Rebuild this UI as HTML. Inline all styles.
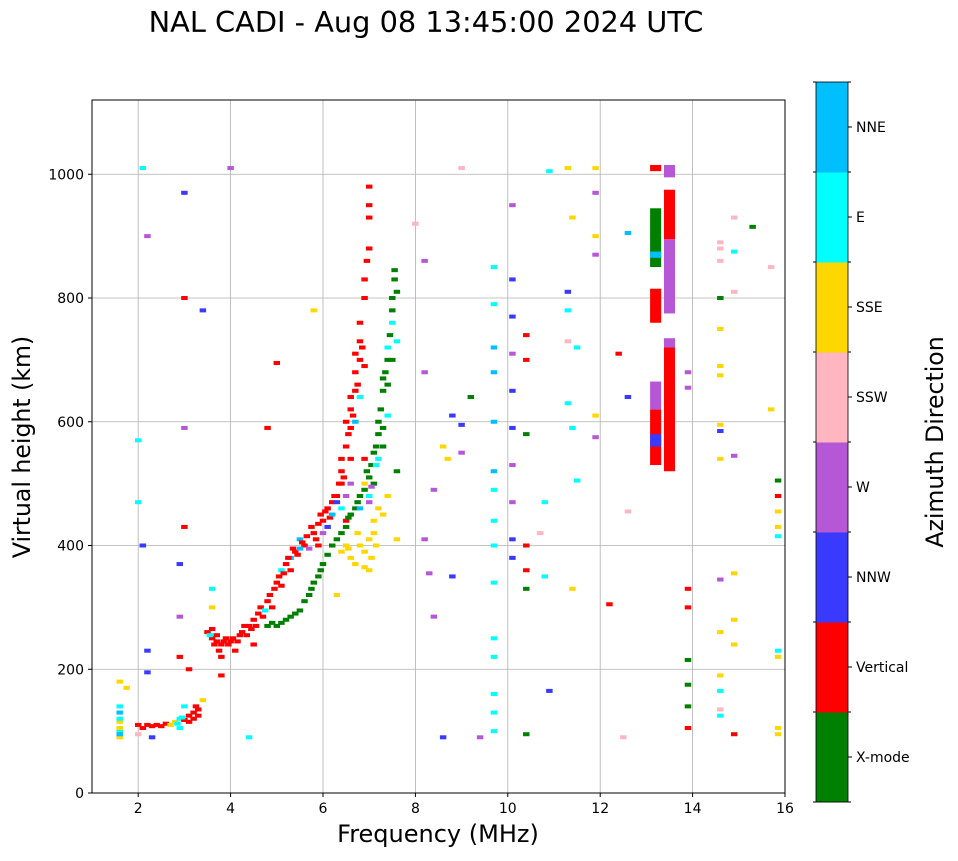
<!DOCTYPE html>
<html><head><meta charset="utf-8">
<style>
body{margin:0;background:#fff;font-family:"DejaVu Sans","Liberation Sans",sans-serif;}
svg text{font-family:"DejaVu Sans","Liberation Sans",sans-serif;}
</style></head>
<body>
<svg id="chart" width="958" height="857">
<text x="426" y="32" text-anchor="middle" font-size="28.8">NAL CADI - Aug 08 13:45:00 2024 UTC</text>
<g id="grid"></g>
<g id="marks"></g>
<rect x="92" y="100" width="693" height="693" fill="none" stroke="#000" stroke-width="1"/>
<g id="axes"></g>
<text x="438" y="842" text-anchor="middle" font-size="24">Frequency (MHz)</text>
<text x="0" y="0" transform="translate(30,447) rotate(-90)" text-anchor="middle" font-size="23.6">Virtual height (km)</text>
<g id="cbar"></g>
<text x="0" y="0" transform="translate(943,442) rotate(-90)" text-anchor="middle" font-size="23.6">Azimuth Direction</text>
</svg>
<script>
const xTicks=[2,4,6,8,10,12,14,16];
const yTicks=[0,200,400,600,800,1000];
const dirNames=["X-mode","Vertical","NNW","W","SSW","SSE","E","NNE"];
const dirColors=["#008000","#ff0000","#3a3aff","#b657d6","#ffb6c1","#ffd700","#00ffff","#00bfff"];
const pFreq=[1.6,1.6,1.6,1.6,2.0,2.2,2.4,2.6,2.8,2.9,3.0,3.1,3.2,3.3,2.3,1.75,1.6,
3.5,3.6,3.7,3.8,3.9,4.0,4.2,4.4,4.6,4.8,5.0,5.2,5.4,5.6,5.8,6.0,6.2,6.4,6.5,6.6,6.7,6.8,6.9,6.95,7.0,7.0,
3.8,3.8,4.1,4.5,5.1,5.3,5.5,5.7,6.3,6.1,6.6,6.7,6.6,6.8,6.5,6.4,
4.8,5.2,5.4,5.6,5.8,6.0,6.2,6.4,6.6,6.8,7.0,7.1,7.2,7.3,7.4,7.5,7.55,7.2,7.3,7.5,7.6,7.6,6.9,7.0,
6.5,6.7,6.9,7.0,7.1,7.3,6.3,7.6,7.4,
4.0,3.4,5.8,2.1,2.2,2.0,2.0,2.1,3.0,3.0,3.0,3.0,4.8,5.0,8.0,8.2,8.2,8.6,8.7,8.4,8.8,9.0,9.0,9.2,9.0,8.2,8.3,8.8,8.4,8.6,9.4,
9.7,9.7,9.7,9.7,9.7,9.7,9.7,9.7,9.7,9.7,9.7,9.7,9.7,9.7,9.7,
10.1,10.1,10.1,10.1,10.1,10.1,10.1,10.1,10.1,10.1,10.4,10.4,10.4,10.4,10.4,10.4,10.4,
10.8,10.7,10.8,10.9,10.9,11.3,11.4,11.3,11.3,11.3,11.3,11.4,11.5,11.5,11.4,11.9,11.9,11.9,11.9,11.9,11.9,
12.4,12.6,12.6,12.6,12.5,12.2,13.9,13.9,13.9,13.9,13.9,13.9,13.9,13.9,
14.6,14.6,14.6,14.6,14.6,14.6,14.6,14.6,14.6,14.6,14.6,14.6,14.6,14.6,14.6,14.6,
14.9,14.9,14.9,14.9,14.9,14.9,14.9,14.9,15.3,15.7,15.7,15.85,15.85,15.85,15.85,15.85,15.85,15.85,15.85,15.85,
4.4,3.6,3.6,2.9,2.9,2.9,3.1,2.2,2.2,3.4,3.0,
1.6,1.6,1.6,1.6,2.1,2.3,2.5,2.7,2.85,2.95,3.1,3.2,3.3,3.25,2.0,2.9,
3.55,3.6,3.65,3.7,3.75,3.85,3.95,4.05,4.15,4.25,4.3,4.35,4.45,4.5,4.55,4.65,4.7,4.75,4.85,4.9,4.95,5.05,5.1,5.15,5.25,5.3,5.35,5.45,5.5,5.55,5.65,5.75,5.85,5.9,5.95,6.05,6.1,6.15,6.25,6.3,6.35,6.4,6.45,6.5,6.55,6.6,6.65,6.7,6.75,6.8,6.85,6.9,7.0,7.0,6.6,6.4,6.2,6.0,5.9,6.5,6.7,6.8,6.9,
4.9,5.0,5.1,5.3,5.5,5.7,5.75,5.9,5.95,6.1,6.3,6.5,6.55,6.7,6.75,6.9,6.95,7.05,7.1,7.15,7.25,7.3,7.35,7.4,7.45,7.5,7.55,7.6,7.0,7.2,7.4,6.8,7.05,6.9,7.15,7.5,7.4,7.3,
6.4,6.6,6.8,6.9,7.0,7.05,7.1,7.2,6.75,7.15,6.55];
const pHeight=[100,115,130,90,110,110,110,112,115,120,118,125,130,135,90,170,180,
260,250,245,240,250,245,255,270,290,310,340,370,390,400,420,440,470,520,560,620,680,730,800,860,930,980,
220,190,230,240,360,380,410,395,480,430,590,650,540,700,480,500,
270,280,290,310,340,370,400,420,450,480,510,550,600,650,700,780,830,580,670,760,730,520,500,470,
400,370,390,360,420,450,320,410,480,
1010,780,780,1010,900,570,470,400,800,590,430,970,590,695,920,860,680,560,540,490,610,595,550,640,1010,410,355,350,285,90,90,
850,790,720,680,600,520,490,440,400,340,250,220,160,130,100,
950,830,770,710,650,590,530,470,410,380,740,700,580,400,360,330,95,
470,420,350,165,1005,1010,930,810,780,730,630,590,720,505,330,1010,970,900,870,610,575,
710,905,640,455,90,305,680,655,330,300,215,175,140,105,
890,880,860,800,750,690,675,595,585,540,345,260,190,165,135,125,
930,875,810,545,355,280,240,95,915,850,620,505,480,455,430,415,230,220,105,95,
90,330,300,285,370,220,200,195,230,150,140,
95,105,120,140,105,108,108,110,112,122,115,120,125,140,95,105,
255,265,240,255,230,245,240,250,245,260,270,255,265,280,270,300,285,295,320,300,330,350,335,355,380,360,395,385,395,405,415,430,410,435,450,455,460,445,480,470,500,540,510,600,580,640,610,710,660,760,720,830,880,950,500,460,450,420,400,440,600,640,690,
275,270,275,285,295,320,330,350,360,385,410,430,445,460,470,490,520,530,500,560,620,590,680,660,740,800,845,810,480,540,610,460,495,540,530,700,720,560,
390,380,400,365,410,380,440,460,420,400,395];
const pDir=[6,5,7,5,1,1,1,1,5,6,1,1,1,1,2,5,5,
1,1,1,1,1,1,1,1,1,1,1,1,1,1,1,1,1,1,1,1,1,1,1,1,1,1,
1,1,1,1,6,7,7,3,1,2,1,1,1,1,3,1,
0,0,0,0,0,0,0,0,0,0,0,0,0,0,0,0,0,0,0,6,6,0,5,3,
5,5,5,5,5,5,5,5,5,
3,2,5,6,3,6,6,2,1,3,1,2,1,1,4,3,3,5,5,3,2,2,3,0,4,3,3,2,3,2,3,
6,6,7,7,7,7,6,6,6,6,6,6,6,6,6,
3,2,2,3,2,2,3,3,2,2,1,1,0,1,1,0,0,
6,4,6,2,6,5,5,2,6,4,6,6,6,6,5,5,3,5,3,5,3,
1,7,2,4,4,1,3,3,1,1,0,0,0,1,
4,4,4,0,5,5,5,5,2,5,3,5,5,6,4,6,
4,6,4,3,5,5,5,1,0,4,5,0,1,5,5,6,6,5,5,5,
6,6,5,3,2,1,1,2,2,5,6,
7,5,6,6,1,1,1,5,6,6,1,1,1,1,4,6,
6,1,1,1,1,1,1,1,1,1,1,1,1,1,1,1,1,6,1,1,1,1,1,1,1,1,1,1,7,1,1,1,1,1,1,1,1,1,1,2,1,1,1,1,1,1,1,1,1,1,1,1,1,1,3,6,7,3,1,1,7,6,1,
0,0,0,0,0,0,0,0,0,0,0,0,0,0,0,0,0,0,0,0,0,0,0,0,0,0,0,0,6,6,6,7,3,1,6,0,6,0,
5,5,5,5,5,5,5,5,5,5,5];
// vertical column segments at ~13.2 and ~13.5 MHz
const colFreq=[13.2,13.2,13.2,13.2,13.2,13.2,13.2,13.2,13.5,13.5,13.5,13.5,13.5];
const colLow=[530,560,620,640,760,850,865,1005,520,720,775,895,995];
const colHigh=[620,580,640,665,815,945,875,1015,720,735,895,975,1015];
const colDir=[1,2,3,3,1,0,7,1,1,3,3,1,3];

const X0=92,X1=785,Y0=793,Y1=100,FMIN=1,FMAX=16,HMIN=0,HMAX=1120;
const xS=f=>X0+(f-FMIN)/(FMAX-FMIN)*(X1-X0);
const yS=h=>Y0-(h-HMIN)/(HMAX-HMIN)*(Y0-Y1);
const NS="http://www.w3.org/2000/svg";
function mk(t,a,p){const e=document.createElementNS(NS,t);for(const k in a)e.setAttribute(k,a[k]);p.appendChild(e);return e;}
const grid=document.getElementById('grid'),axes=document.getElementById('axes'),marks=document.getElementById('marks'),cbar=document.getElementById('cbar');
xTicks.forEach(t=>{const x=xS(t);
 const g=mk('line',{x1:x,x2:x,y1:Y1,y2:Y0,stroke:'#b0b0b0','stroke-width':0.8},grid);
 
 mk('line',{x1:x,x2:x,y1:Y0,y2:Y0+4,stroke:'#000'},axes);
 const l=mk('text',{x:x,y:Y0+20,'text-anchor':'middle','font-size':14},axes);l.textContent=t;
 });
yTicks.forEach(t=>{const y=yS(t);
 const g=mk('line',{x1:X0,x2:X1,y1:y,y2:y,stroke:'#b0b0b0','stroke-width':0.8},grid);
 
 mk('line',{x1:X0-4,x2:X0,y1:y,y2:y,stroke:'#000'},axes);
 const l=mk('text',{x:X0-8,y:y+5,'text-anchor':'end','font-size':14},axes);l.textContent=t;
 });
const bw=0.14,bh=6.5;
for(let i=0;i<pFreq.length;i++){
 const r=mk('rect',{x:xS(pFreq[i])-(xS(FMIN+bw)-X0)/2,y:yS(pHeight[i]+bh/2),width:xS(FMIN+bw)-X0,height:yS(0)-yS(bh),fill:dirColors[pDir[i]]},marks);
 }
for(let i=0;i<colFreq.length;i++){
 const r=mk('rect',{x:xS(colFreq[i])-(xS(FMIN+0.24)-X0)/2,y:yS(colHigh[i]),width:xS(FMIN+0.24)-X0,height:yS(colLow[i])-yS(colHigh[i]),fill:dirColors[colDir[i]]},marks);
 }
const CX=816,CW=32,CT=82,CB=802,n=dirNames.length,ch=(CB-CT)/n;
dirNames.forEach((nm,i)=>{const y=CB-(i+1)*ch;
 const r=mk('rect',{x:CX,y:y,width:CW,height:ch+0.5,fill:dirColors[i]},cbar);
 
 mk('line',{x1:CX+CW,x2:CX+CW+4,y1:y+ch/2,y2:y+ch/2,stroke:'#000'},cbar);
 const l=mk('text',{x:CX+CW+8,y:y+ch/2+5,'font-size':14},cbar);l.textContent=nm;
 });
for(let i=0;i<=n;i++){const y=CB-i*ch;mk('line',{x1:CX-3,x2:CX,y1:y,y2:y,stroke:'#000'},cbar);mk('line',{x1:CX+CW,x2:CX+CW+3,y1:y,y2:y,stroke:'#000'},cbar);}
mk('rect',{x:CX,y:CT,width:CW,height:CB-CT,fill:'none',stroke:'#000','stroke-width':0.8},cbar);
</script>
</body></html>
